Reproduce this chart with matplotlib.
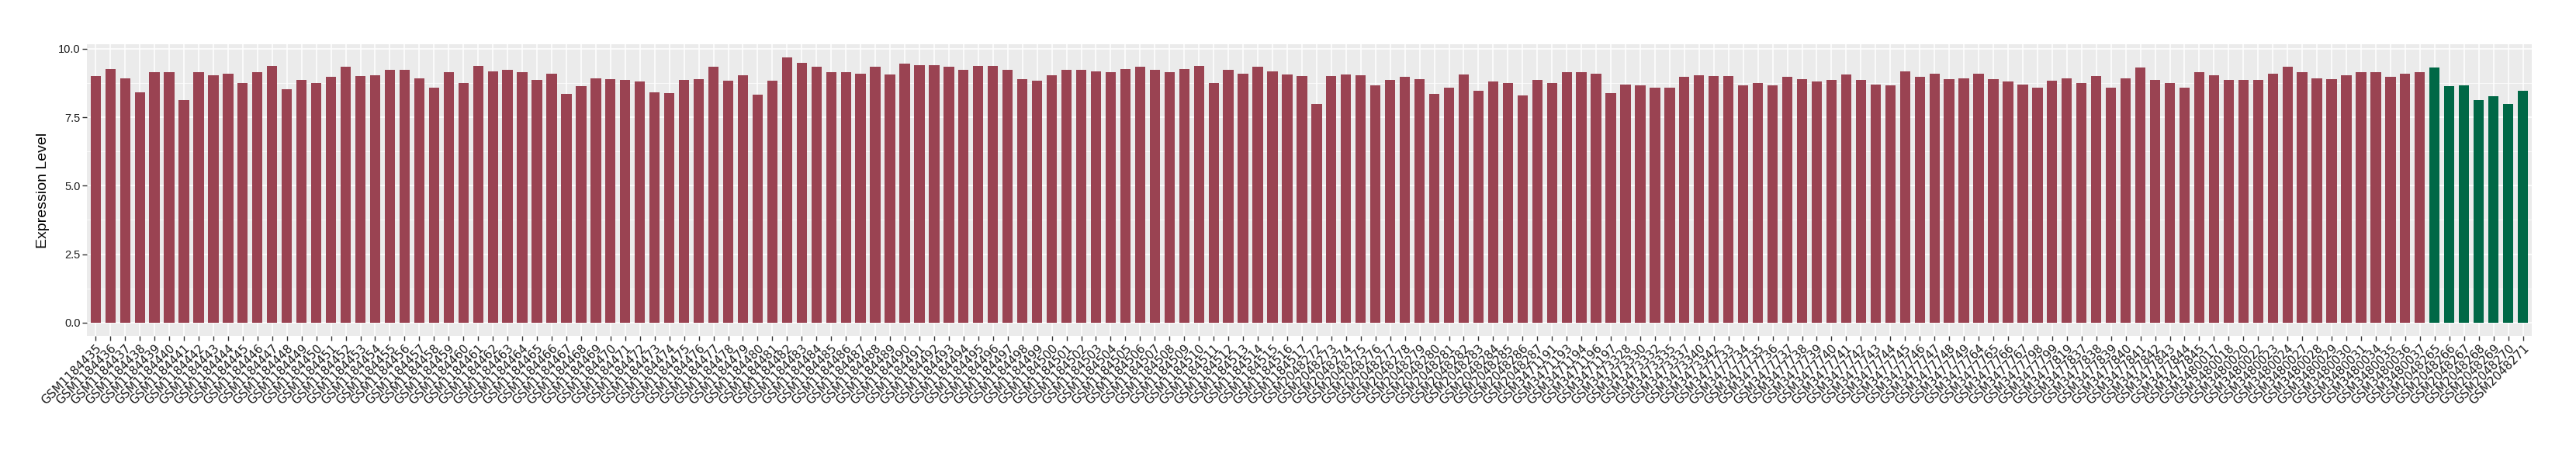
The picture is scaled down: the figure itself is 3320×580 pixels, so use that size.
# -*- coding:utf-8 -*-
import matplotlib
matplotlib.use('Agg')
import matplotlib.pyplot as plt
from matplotlib.ticker import MultipleLocator
import numpy as np

plt.rcParams['font.family'] = ['Liberation Sans', 'DejaVu Sans']

# sample ids, in plotting order
ids_a = ['GSM%d' % n for n in range(1184435, 1184518)]
ids_b = ['GSM%d' % n for n in range(2048272, 2048288)]
ids_c = ['GSM3471191', 'GSM3471193', 'GSM3471194', 'GSM3471196', 'GSM3471197',
         'GSM3473328', 'GSM3473330', 'GSM3473332', 'GSM3473335', 'GSM3473337',
         'GSM3473340', 'GSM3473342']
ids_d = ['GSM%d' % n for n in range(3477733, 3477750)]
ids_e = ['GSM3477764', 'GSM3477765', 'GSM3477766', 'GSM3477767', 'GSM3477798',
         'GSM3477799', 'GSM3477819', 'GSM3477837', 'GSM3477838', 'GSM3477839',
         'GSM3477840', 'GSM3477841', 'GSM3477842', 'GSM3477843', 'GSM3477844',
         'GSM3477845']
ids_f = ['GSM3480017', 'GSM3480018', 'GSM3480020', 'GSM3480022', 'GSM3480023',
         'GSM3480024', 'GSM3480027', 'GSM3480028', 'GSM3480029', 'GSM3480030',
         'GSM3480031', 'GSM3480034', 'GSM3480035', 'GSM3480036', 'GSM3480037']
ids_ctrl = ['GSM%d' % n for n in range(2048265, 2048272)]

# expression values
vals_a = [8.99, 9.27, 8.93, 8.42, 9.15, 9.15, 8.11, 9.15, 9.04, 9.10,
          8.76, 9.13, 9.38, 8.51, 8.85, 8.76, 8.96, 9.35, 8.99, 9.02,
          9.24, 9.22, 8.93, 8.59, 9.13, 8.76, 9.38, 9.18, 9.22, 9.13,
          8.85, 9.10, 8.34, 8.62, 8.93, 8.90, 8.87, 8.79, 8.42, 8.39,
          8.85, 8.90, 9.33, 8.82, 9.02, 8.31, 8.82, 9.67, 9.47, 9.33,
          9.15, 9.15, 9.10, 9.33, 9.07, 9.44, 9.41, 9.41, 9.35, 9.22,
          9.38, 9.38, 9.22, 8.90, 8.82, 9.02, 9.24, 9.22, 9.18, 9.13,
          9.27, 9.33, 9.22, 9.13, 9.27, 9.38, 8.76, 9.22, 9.10, 9.33,
          9.18, 9.07, 8.99]
vals_b = [7.99, 8.99, 9.07, 9.02, 8.65, 8.87, 8.96, 8.90, 8.34, 8.59,
          9.07, 8.47, 8.79, 8.76, 8.28, 8.85]
vals_c = [8.76, 9.15, 9.13, 9.10, 8.39, 8.70, 8.65, 8.57, 8.57, 8.96,
          9.02, 8.99]
vals_d = [8.99, 8.67, 8.76, 8.67, 8.96, 8.90, 8.79, 8.85, 9.07, 8.85,
          8.70, 8.67, 9.18, 8.96, 9.10, 8.90, 8.93]
vals_e = [9.10, 8.90, 8.79, 8.70, 8.57, 8.82, 8.93, 8.76, 8.99, 8.59,
          8.93, 9.30, 8.87, 8.76, 8.57, 9.15]
vals_f = [9.02, 8.85, 8.85, 8.85, 9.10, 9.35, 9.13, 8.93, 8.90, 9.04,
          9.13, 9.13, 8.96, 9.10, 9.15]
vals_ctrl = [9.30, 8.62, 8.65, 8.11, 8.26, 7.99, 8.45]

case_color = '#9A4352'
ctrl_color = '#006846'

case_ids = ids_a + ids_b + ids_c + ids_d + ids_e + ids_f
case_vals = vals_a + vals_b + vals_c + vals_d + vals_e + vals_f
labels = case_ids + ids_ctrl
values = case_vals + vals_ctrl
colors = [case_color] * len(case_ids) + [ctrl_color] * len(ids_ctrl)

fig = plt.figure(figsize=(33.2, 5.8), dpi=100)
ax = fig.add_axes([0.0337, 0.2536, 0.9491, 0.6476])

x = np.arange(len(labels))
ax.set_facecolor('#EBEBEB')
ax.bar(x, values, width=0.7, color=colors, zorder=3)

top = max(values)
ax.set_ylim(-0.05 * top, top * 1.05)
ax.set_xlim(-0.6, len(labels) - 0.4)

ax.yaxis.set_minor_locator(MultipleLocator(1.25))
ax.set_yticks([0, 2.5, 5, 7.5, 10])
ax.set_yticklabels(['0.0', '2.5', '5.0', '7.5', '10.0'])
ax.set_xticks(x)
ax.set_xticklabels(labels, rotation=45, ha='right', va='top',
                   rotation_mode='anchor', family='DejaVu Sans', fontsize=11)

ax.grid(which='major', color='white', linewidth=1.1, zorder=0)
ax.grid(which='minor', axis='y', color='white', linewidth=0.55, zorder=0)
ax.set_axisbelow(True)
for s in ax.spines.values():
    s.set_visible(False)

ax.tick_params(axis='both', which='major', length=4, width=1, color='#333333',
               labelcolor='#1A1A1A', pad=2)
ax.tick_params(axis='y', which='major', labelsize=10.5)
ax.tick_params(axis='y', which='minor', length=0)

ax.set_ylabel('Expression Level', fontsize=14, labelpad=8)

fig.savefig('out.png', dpi=100)
